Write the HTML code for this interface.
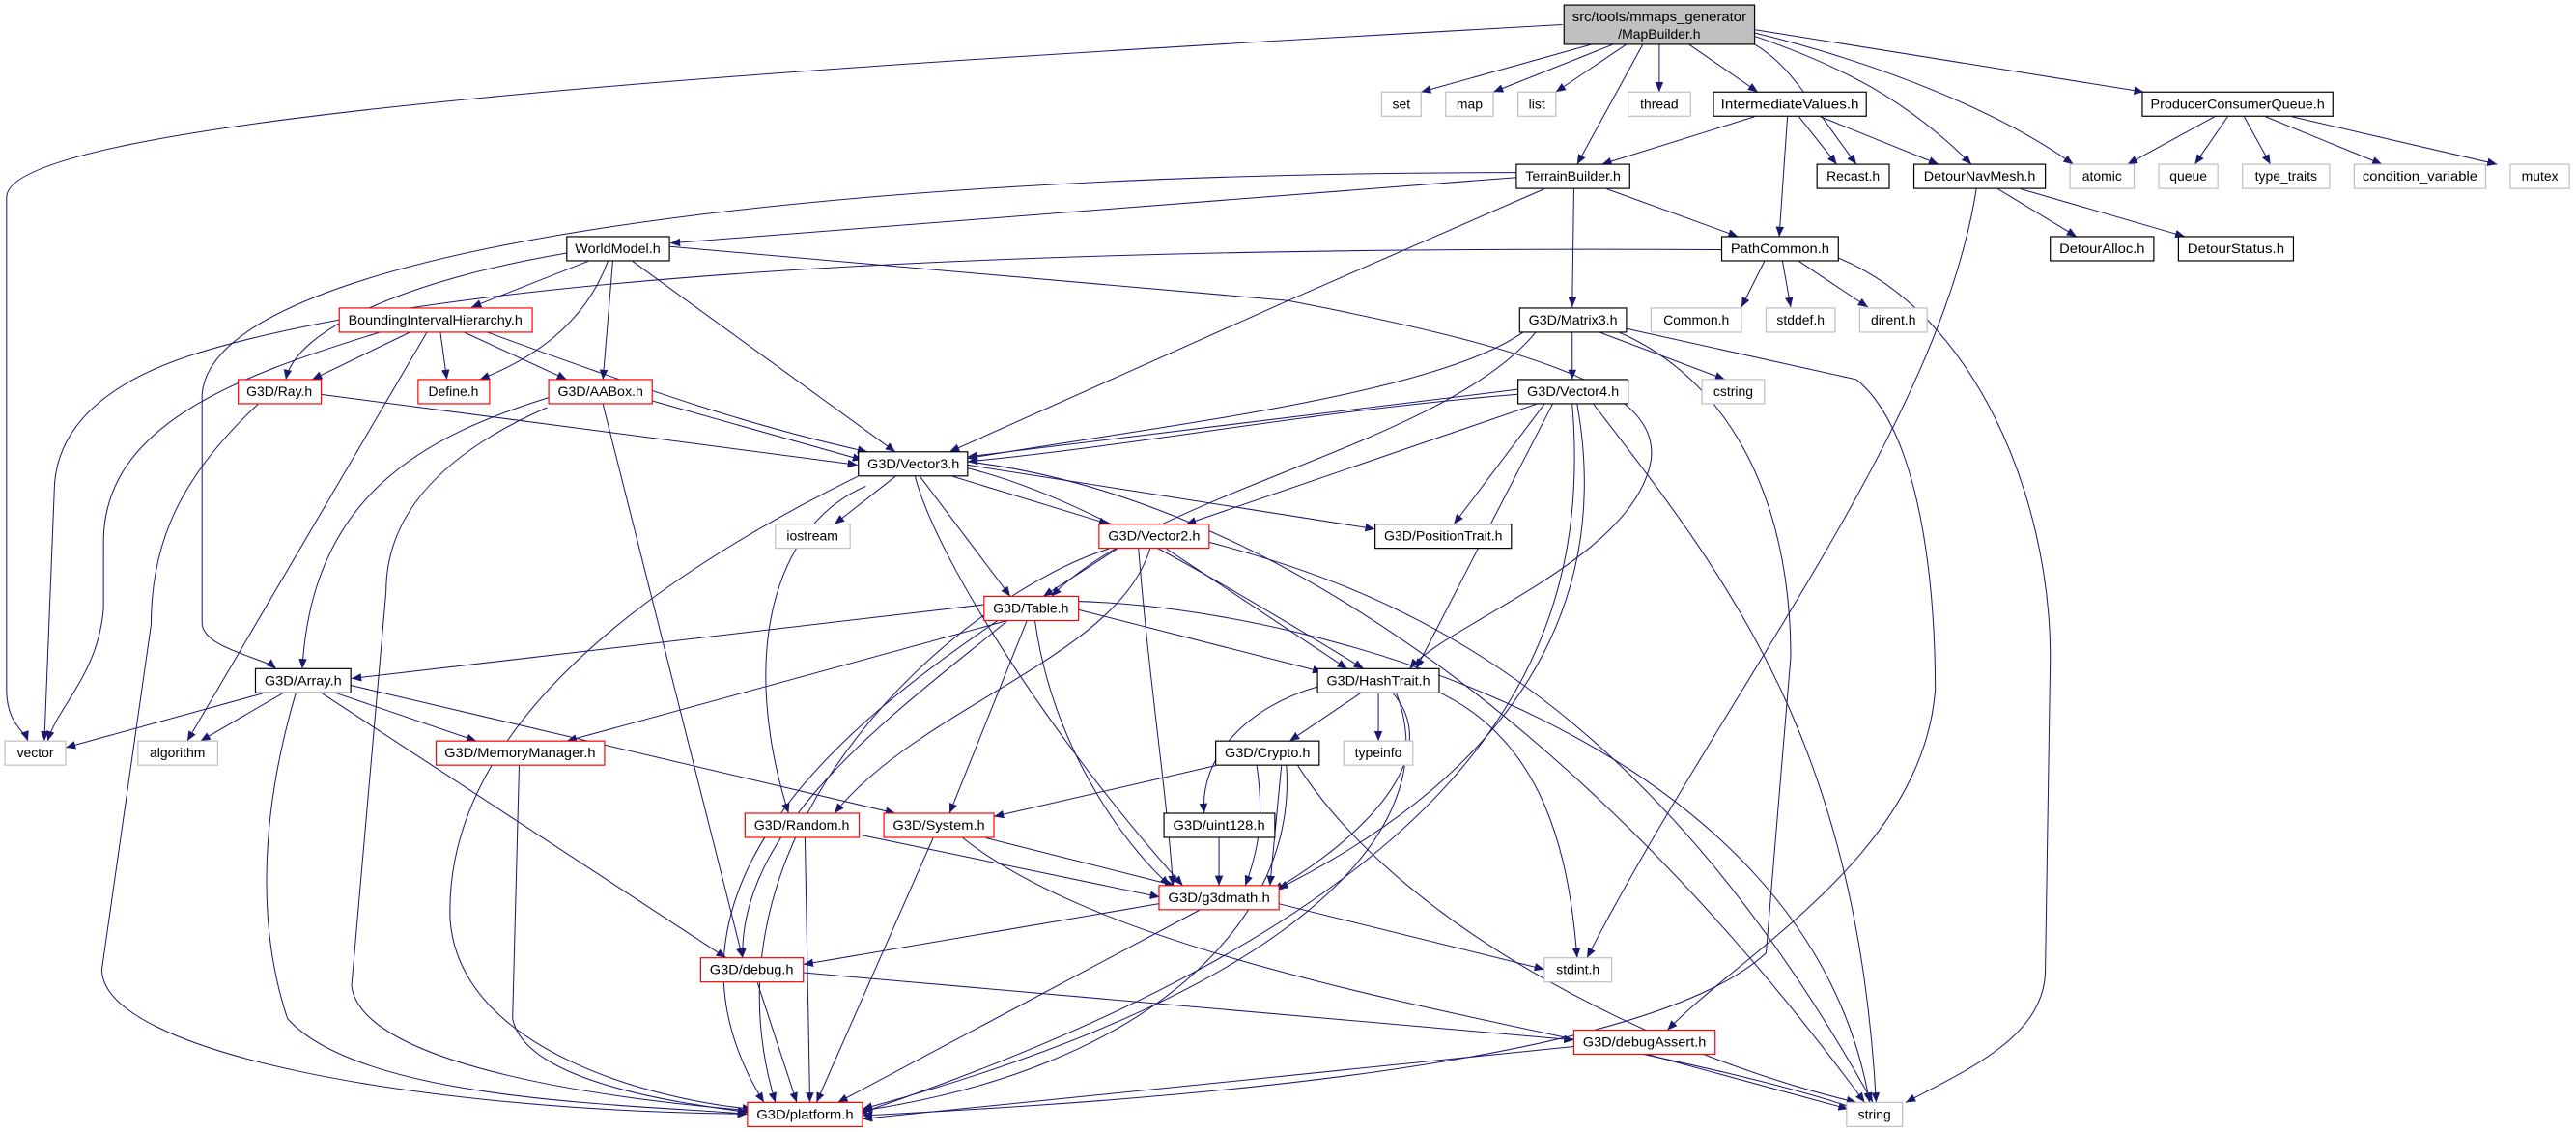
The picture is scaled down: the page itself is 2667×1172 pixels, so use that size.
<!DOCTYPE html>
<html><head><meta charset="utf-8"><style>
html,body{margin:0;padding:0;background:#fff;}
svg{display:block;}
text{font-family:"Liberation Sans",sans-serif;font-size:8.2px;fill:#000;}
.e{fill:none;stroke:#191970;stroke-width:0.6;marker-end:url(#a);}
.b{fill:#fff;stroke:#000;stroke-width:0.7;}
.g{fill:#fff;stroke:#bfbfbf;stroke-width:0.7;}
.r{fill:#fff;stroke:#ff0000;stroke-width:0.7;}
</style></head><body>
<svg width="2667" height="1172" viewBox="0 0 1568 689" preserveAspectRatio="none" xmlns="http://www.w3.org/2000/svg">
<defs><marker id="a" markerUnits="userSpaceOnUse" markerWidth="6" markerHeight="5" refX="6" refY="2.5" orient="auto"><path d="M0,0 L6,2.5 L0,5 z" fill="#191970"/></marker></defs>
<g>
<path class="e" d="M969,27 L865,56"/>
<path class="e" d="M982,27 L909,56"/>
<path class="e" d="M990,27 L947,56"/>
<path class="e" d="M1010,27 L1010,56"/>
<path class="e" d="M1028,27 L1070,56"/>
<path class="e" d="M1000,27 L960,100"/>
<path class="e" d="M1068,27 C1090,40 1100,60 1130,100"/>
<path class="e" d="M1068,22 C1120,40 1160,60 1200,100"/>
<path class="e" d="M1068,20 C1150,40 1220,70 1262,100"/>
<path class="e" d="M1068,18 L1305,56"/>
<path class="e" d="M951,15 C500,40 4,70 4,120 L4,420 C4,440 15,445 17,451"/>
<path class="e" d="M1068,71 L975,100"/>
<path class="e" d="M1088,71 L1083,144"/>
<path class="e" d="M1095,71 L1118,100"/>
<path class="e" d="M1108,71 L1180,100"/>
<path class="e" d="M1348,71 L1295,100"/>
<path class="e" d="M1356,71 L1336,100"/>
<path class="e" d="M1366,71 L1382,100"/>
<path class="e" d="M1379,71 L1450,100"/>
<path class="e" d="M1395,71 L1520,100"/>
<path class="e" d="M923,108 L408,148"/>
<path class="e" d="M923,105 C500,105 130,150 123,240 L123,380 C125,395 160,400 168,407"/>
<path class="e" d="M978,115 L1058,144"/>
<path class="e" d="M958,115 L957,187"/>
<path class="e" d="M940,115 L784,183 L578,275"/>
<path class="e" d="M1216,115 L1264,144"/>
<path class="e" d="M1230,115 L1330,144"/>
<path class="e" d="M1203,115 C1180,260 1050,420 966,583"/>
<path class="e" d="M1074,159 L1060,187"/>
<path class="e" d="M1085,159 L1090,187"/>
<path class="e" d="M1095,159 L1137,187"/>
<path class="e" d="M1048,152 C700,150 300,160 120,215 C40,240 33,280 33,300 L27,451"/>
<path class="e" d="M1119,157 C1200,190 1248,300 1248,400 L1245,590 C1245,630 1200,650 1160,671"/>
<path class="e" d="M358,159 L287,187"/>
<path class="e" d="M345,154 C250,170 180,200 174,231"/>
<path class="e" d="M370,159 C355,200 320,220 292,231"/>
<path class="e" d="M373,159 L367,231"/>
<path class="e" d="M385,159 L545,275"/>
<path class="e" d="M407,150 L784,183 C950,215 1010,240 1005,280 C995,340 880,380 858,407"/>
<path class="e" d="M250,202 L190,231"/>
<path class="e" d="M268,202 L272,231"/>
<path class="e" d="M282,202 L345,231"/>
<path class="e" d="M296,202 C400,240 460,260 528,275"/>
<path class="e" d="M260,202 L114,451"/>
<path class="e" d="M232,202 C140,230 63,260 63,330 L63,370 C60,410 35,430 29,451"/>
<path class="e" d="M195,240 L522,283"/>
<path class="e" d="M157,246 C110,290 92,330 92,380 L62,590 C62,640 250,676 455,678"/>
<path class="e" d="M397,244 L525,280"/>
<path class="e" d="M334,242 C260,265 190,300 184,407"/>
<path class="e" d="M333,248 C260,280 235,320 235,360 L214,600 C220,650 380,670 458,676"/>
<path class="e" d="M367,246 L452,583"/>
<path class="e" d="M545,290 L508,319"/>
<path class="e" d="M580,290 L675,319"/>
<path class="e" d="M560,290 L615,363"/>
<path class="e" d="M589,285 C650,300 720,340 830,407"/>
<path class="e" d="M589,283 L837,322"/>
<path class="e" d="M589,281 C750,300 950,420 1135,671"/>
<path class="e" d="M557,290 C570,340 640,450 720,539"/>
<path class="e" d="M527,296 C470,320 450,400 480,495"/>
<path class="e" d="M522,290 C380,360 270,450 274,560 C280,640 400,670 458,675"/>
<path class="e" d="M680,334 L635,363"/>
<path class="e" d="M710,334 L820,407"/>
<path class="e" d="M693,334 C700,420 710,480 714,539"/>
<path class="e" d="M700,334 C680,400 560,430 508,495"/>
<path class="e" d="M675,334 C590,360 420,500 472,671"/>
<path class="e" d="M736,330 C850,360 1000,420 1140,671"/>
<path class="e" d="M924,237 L589,278"/>
<path class="e" d="M924,240 C800,250 700,270 589,281"/>
<path class="e" d="M935,246 L722,319"/>
<path class="e" d="M940,246 L885,319"/>
<path class="e" d="M945,246 L862,407"/>
<path class="e" d="M960,246 C975,330 960,450 778,541"/>
<path class="e" d="M957,246 C970,400 900,550 522,678"/>
<path class="e" d="M970,246 C1050,350 1130,450 1142,671"/>
<path class="e" d="M957,202 L957,231"/>
<path class="e" d="M973,202 L1050,231"/>
<path class="e" d="M930,200 C880,240 700,260 589,279"/>
<path class="e" d="M935,202 C880,270 700,300 640,363"/>
<path class="e" d="M990,200 L1130,231 C1178,270 1178,400 1178,420 C1170,520 1060,580 1015,627"/>
<path class="e" d="M985,202 C1050,230 1090,300 1090,400 L1075,580 C1000,650 700,670 525,679"/>
<path class="e" d="M599,368 L214,413"/>
<path class="e" d="M656,371 L805,409"/>
<path class="e" d="M612,378 L345,451"/>
<path class="e" d="M625,378 L578,495"/>
<path class="e" d="M630,378 C640,450 680,510 712,539"/>
<path class="e" d="M613,378 C550,430 450,500 452,583"/>
<path class="e" d="M607,378 C500,450 390,550 465,671"/>
<path class="e" d="M656,366 C800,370 1100,450 1138,671"/>
<path class="e" d="M160,422 L40,455"/>
<path class="e" d="M172,422 L122,451"/>
<path class="e" d="M205,422 L290,451"/>
<path class="e" d="M213,417 L545,495"/>
<path class="e" d="M196,422 L442,583"/>
<path class="e" d="M180,422 C160,490 155,560 175,620 C220,670 380,672 455,678"/>
<path class="e" d="M828,422 L785,451"/>
<path class="e" d="M839,422 L839,451"/>
<path class="e" d="M873,420 C940,450 955,520 960,583"/>
<path class="e" d="M848,422 C880,460 830,510 775,542"/>
<path class="e" d="M850,422 C880,500 800,600 525,675"/>
<path class="e" d="M802,418 C760,430 730,460 733,495"/>
<path class="e" d="M740,466 L605,497"/>
<path class="e" d="M765,466 C770,500 765,520 758,539"/>
<path class="e" d="M780,466 L773,539"/>
<path class="e" d="M783,466 C790,560 700,650 525,676"/>
<path class="e" d="M790,466 C850,560 1000,640 1130,671"/>
<path class="e" d="M742,510 L742,539"/>
<path class="e" d="M316,466 L312,620 C320,660 420,672 455,677"/>
<path class="e" d="M523,508 L706,546"/>
<path class="e" d="M490,510 L493,671"/>
<path class="e" d="M600,510 L715,539"/>
<path class="e" d="M568,510 L497,671"/>
<path class="e" d="M586,510 C700,600 1000,630 1130,675"/>
<path class="e" d="M706,550 L489,587"/>
<path class="e" d="M730,554 L510,671"/>
<path class="e" d="M778,550 L940,590"/>
<path class="e" d="M489,592 L958,633"/>
<path class="e" d="M461,598 L485,671"/>
<path class="e" d="M958,637 L525,681"/>
<path class="e" d="M1000,641 L1125,675"/>
</g>
<g text-anchor="middle">
<rect x="952" y="3" width="116" height="24" fill="#bfbfbf" stroke="#000" stroke-width="0.7"/>
<text x="1010" y="13" textLength="106" lengthAdjust="spacingAndGlyphs">src/tools/mmaps_generator</text>
<text x="1010" y="23.5">/MapBuilder.h</text>

<rect class="g" x="841" y="56" width="24" height="14.7"/><text x="853" y="66">set</text>
<rect class="g" x="880" y="56" width="29" height="14.7"/><text x="894.5" y="66">map</text>
<rect class="g" x="924" y="56" width="23" height="14.7"/><text x="935.5" y="66">list</text>
<rect class="g" x="991" y="56" width="38" height="14.7"/><text x="1010" y="66">thread</text>
<rect class="b" x="1043" y="56" width="93" height="14.7"/><text x="1089.5" y="66" textLength="84" lengthAdjust="spacingAndGlyphs">IntermediateValues.h</text>
<rect class="b" x="1304" y="56" width="116" height="14.7"/><text x="1362" y="66" textLength="106" lengthAdjust="spacingAndGlyphs">ProducerConsumerQueue.h</text>
<rect class="b" x="923" y="100" width="69" height="14.7"/><text x="957.5" y="110" textLength="58" lengthAdjust="spacingAndGlyphs">TerrainBuilder.h</text>
<rect class="b" x="1106" y="100" width="44" height="14.7"/><text x="1128" y="110">Recast.h</text>
<rect class="b" x="1165" y="100" width="80" height="14.7"/><text x="1205" y="110" textLength="68" lengthAdjust="spacingAndGlyphs">DetourNavMesh.h</text>
<rect class="g" x="1260" y="100" width="39" height="14.7"/><text x="1279.5" y="110">atomic</text>
<rect class="g" x="1314" y="100" width="36" height="14.7"/><text x="1332" y="110">queue</text>
<rect class="g" x="1365" y="100" width="53" height="14.7"/><text x="1391.5" y="110">type_traits</text>
<rect class="g" x="1433" y="100" width="80" height="14.7"/><text x="1473" y="110" textLength="70" lengthAdjust="spacingAndGlyphs">condition_variable</text>
<rect class="g" x="1528" y="100" width="36" height="14.7"/><text x="1546" y="110">mutex</text>
<rect class="b" x="1048" y="144" width="71" height="14.7"/><text x="1083.5" y="154" textLength="60" lengthAdjust="spacingAndGlyphs">PathCommon.h</text>
<rect class="b" x="1248" y="144" width="63" height="14.7"/><text x="1279.5" y="154" textLength="52" lengthAdjust="spacingAndGlyphs">DetourAlloc.h</text>
<rect class="b" x="1326" y="144" width="70" height="14.7"/><text x="1361" y="154" textLength="59" lengthAdjust="spacingAndGlyphs">DetourStatus.h</text>
<rect class="b" x="345" y="144" width="62.5" height="14.7"/><text x="376" y="154" textLength="52" lengthAdjust="spacingAndGlyphs">WorldModel.h</text>
<rect class="r" x="206.5" y="187.5" width="117.5" height="14.7"/><text x="265" y="197.5" textLength="106" lengthAdjust="spacingAndGlyphs">BoundingIntervalHierarchy.h</text>
<rect class="b" x="925" y="187.5" width="65" height="14.7"/><text x="957.5" y="197.5" textLength="54" lengthAdjust="spacingAndGlyphs">G3D/Matrix3.h</text>
<rect class="g" x="1005" y="187.5" width="55" height="14.7"/><text x="1032.5" y="197.5">Common.h</text>
<rect class="g" x="1075" y="187.5" width="42" height="14.7"/><text x="1096" y="197.5">stddef.h</text>
<rect class="g" x="1132" y="187.5" width="41" height="14.7"/><text x="1152.5" y="197.5">dirent.h</text>
<rect class="r" x="145" y="231" width="50.5" height="14.7"/><text x="170" y="241" textLength="40" lengthAdjust="spacingAndGlyphs">G3D/Ray.h</text>
<rect class="r" x="254.5" y="231" width="43.5" height="14.7"/><text x="276" y="241">Define.h</text>
<rect class="r" x="334" y="231" width="63" height="14.7"/><text x="365.5" y="241" textLength="52" lengthAdjust="spacingAndGlyphs">G3D/AABox.h</text>
<rect class="b" x="924" y="231" width="67" height="14.7"/><text x="957.5" y="241" textLength="56" lengthAdjust="spacingAndGlyphs">G3D/Vector4.h</text>
<rect class="g" x="1036" y="231" width="38" height="14.7"/><text x="1055" y="241">cstring</text>
<rect class="b" x="522.5" y="275" width="66.5" height="14.7"/><text x="556" y="285" textLength="56" lengthAdjust="spacingAndGlyphs">G3D/Vector3.h</text>
<rect class="g" x="472" y="319" width="45.5" height="14.7"/><text x="494.5" y="329">iostream</text>
<rect class="r" x="669" y="319" width="67" height="14.7"/><text x="702.5" y="329" textLength="56" lengthAdjust="spacingAndGlyphs">G3D/Vector2.h</text>
<rect class="b" x="837" y="319" width="83" height="14.7"/><text x="878.5" y="329" textLength="72" lengthAdjust="spacingAndGlyphs">G3D/PositionTrait.h</text>
<rect class="r" x="599" y="363" width="57.5" height="14.7"/><text x="627.5" y="373" textLength="46" lengthAdjust="spacingAndGlyphs">G3D/Table.h</text>
<rect class="b" x="155.5" y="407" width="58" height="14.7"/><text x="184.5" y="417" textLength="47" lengthAdjust="spacingAndGlyphs">G3D/Array.h</text>
<rect class="b" x="802" y="407" width="74" height="14.7"/><text x="839" y="417" textLength="63" lengthAdjust="spacingAndGlyphs">G3D/HashTrait.h</text>
<rect class="g" x="3" y="451" width="37" height="14.7"/><text x="21.5" y="461">vector</text>
<rect class="g" x="84" y="451" width="48.5" height="14.7"/><text x="108" y="461">algorithm</text>
<rect class="r" x="265.5" y="451" width="102.5" height="14.7"/><text x="316.5" y="461" textLength="92" lengthAdjust="spacingAndGlyphs">G3D/MemoryManager.h</text>
<rect class="b" x="740" y="451" width="63" height="14.7"/><text x="771.5" y="461" textLength="52" lengthAdjust="spacingAndGlyphs">G3D/Crypto.h</text>
<rect class="g" x="818" y="451" width="42" height="14.7"/><text x="839" y="461">typeinfo</text>
<rect class="r" x="453.5" y="495" width="69.5" height="14.7"/><text x="488" y="505" textLength="58" lengthAdjust="spacingAndGlyphs">G3D/Random.h</text>
<rect class="r" x="538" y="495" width="67" height="14.7"/><text x="571.5" y="505" textLength="56" lengthAdjust="spacingAndGlyphs">G3D/System.h</text>
<rect class="b" x="708.5" y="495" width="67.5" height="14.7"/><text x="742" y="505" textLength="56" lengthAdjust="spacingAndGlyphs">G3D/uint128.h</text>
<rect class="r" x="705.5" y="539" width="73" height="14.7"/><text x="742" y="549" textLength="62" lengthAdjust="spacingAndGlyphs">G3D/g3dmath.h</text>
<rect class="r" x="426.5" y="583" width="62.5" height="14.7"/><text x="457.5" y="593" textLength="51" lengthAdjust="spacingAndGlyphs">G3D/debug.h</text>
<rect class="g" x="940" y="583" width="41" height="14.7"/><text x="960.5" y="593">stdint.h</text>
<rect class="r" x="958" y="627" width="86" height="14.7"/><text x="1001" y="637" textLength="75" lengthAdjust="spacingAndGlyphs">G3D/debugAssert.h</text>
<rect class="r" x="455" y="671" width="70" height="14.7"/><text x="490" y="681" textLength="59" lengthAdjust="spacingAndGlyphs">G3D/platform.h</text>
<rect class="g" x="1124" y="671" width="34" height="14.7"/><text x="1141" y="681">string</text>
</g>
</svg>
</body></html>
